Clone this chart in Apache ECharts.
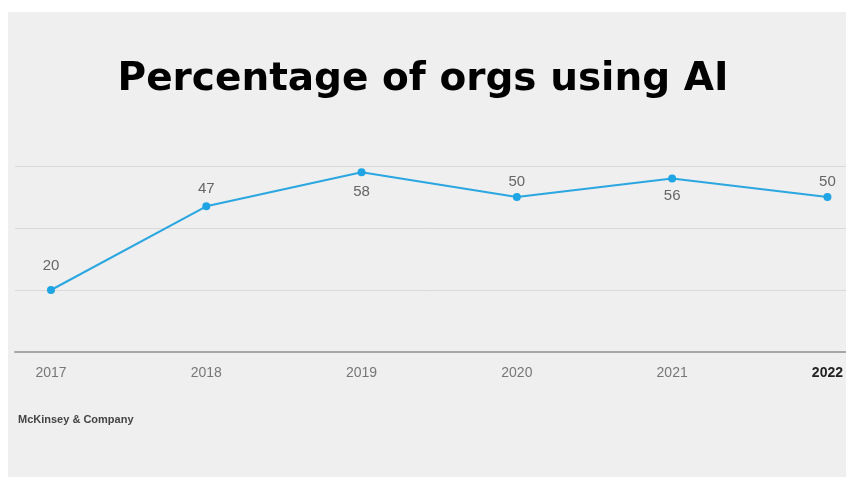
<!DOCTYPE html>
<html>
<head>
<meta charset="utf-8">
<script src="https://cdn.jsdelivr.net/npm/echarts@6/dist/echarts.min.js"></script>
<style>
html,body{margin:0;padding:0;background:#ffffff;}
#bg{position:absolute;left:8px;top:12px;width:838px;height:465px;background:#efefef;}
#chart{position:absolute;left:0;top:0;width:846px;height:477px;}
</style>
</head>
<body>
<div id="bg"></div>
<div id="chart"></div>
<script>
const titleText = 'Percentage of orgs using AI';
const sourceText = 'McKinsey & Company';
const years = ['2017', '2018', '2019', '2020', '2021', '2022'];
const values = [20, 47, 58, 50, 56, 50];
const labelSide = ['top', 'top', 'bottom', 'top', 'bottom', 'top'];
const labelGap = [13, 6, 8, 4, 6, 4];
const yTicks = [0, 20, 40, 60];

const chart = echarts.init(document.getElementById('chart'), null, {renderer: 'canvas'});
const fontFam = '"Liberation Sans", Arial, Helvetica, sans-serif';

chart.setOption({
  backgroundColor: 'transparent',
  animation: false,
  title: [{
    text: titleText,
    left: 'center',
    top: 55,
    textStyle: {fontFamily: '"DejaVu Sans", sans-serif', fontWeight: 'bold', fontSize: 39, color: '#000000'}
  }, {
    text: sourceText,
    left: 18,
    top: 414,
    padding: 0,
    textStyle: {fontFamily: fontFam, fontWeight: 'bold', fontSize: 11, color: '#444444'}
  }],
  grid: [
    {left: 15, right: 0, top: 166, bottom: 125},
    {left: 51, right: 18, top: 166, bottom: 125}
  ],
  xAxis: [{
    gridIndex: 0, type: 'value', min: 0, max: 1,
    axisLine: {show: true, onZero: false, lineStyle: {color: '#a6a6a6', width: 2}},
    axisTick: {show: false}, axisLabel: {show: false}, splitLine: {show: false}
  }, {
    gridIndex: 1, type: 'category', boundaryGap: false,
    data: years.map((y, i) => i === years.length - 1
      ? {value: y, textStyle: {fontWeight: 'bold', color: '#222222'}}
      : y),
    axisLine: {show: false}, axisTick: {show: false},
    axisLabel: {margin: 14, fontSize: 14, color: '#777777', fontFamily: fontFam}
  }],
  yAxis: [{
    gridIndex: 0, type: 'value', min: yTicks[0], max: yTicks[yTicks.length - 1], interval: 20,
    axisLine: {show: false}, axisTick: {show: false}, axisLabel: {show: false},
    splitLine: {show: true, lineStyle: {color: '#d9d9d9', width: 1}}
  }, {
    gridIndex: 1, type: 'value', min: yTicks[0], max: yTicks[yTicks.length - 1],
    axisLine: {show: false}, axisTick: {show: false}, axisLabel: {show: false},
    splitLine: {show: false}
  }],
  series: [{
    type: 'line',
    xAxisIndex: 1, yAxisIndex: 1,
    data: values.map((v, i) => ({
      value: v,
      label: {position: labelSide[i], distance: labelGap[i]}
    })),
    symbol: 'circle', symbolSize: 8,
    lineStyle: {color: '#2aa6e0', width: 2},
    itemStyle: {color: '#1fa5e3'},
    label: {show: true, fontSize: 15, color: '#666666', fontFamily: fontFam}
  }]
});
</script>
</body>
</html>
